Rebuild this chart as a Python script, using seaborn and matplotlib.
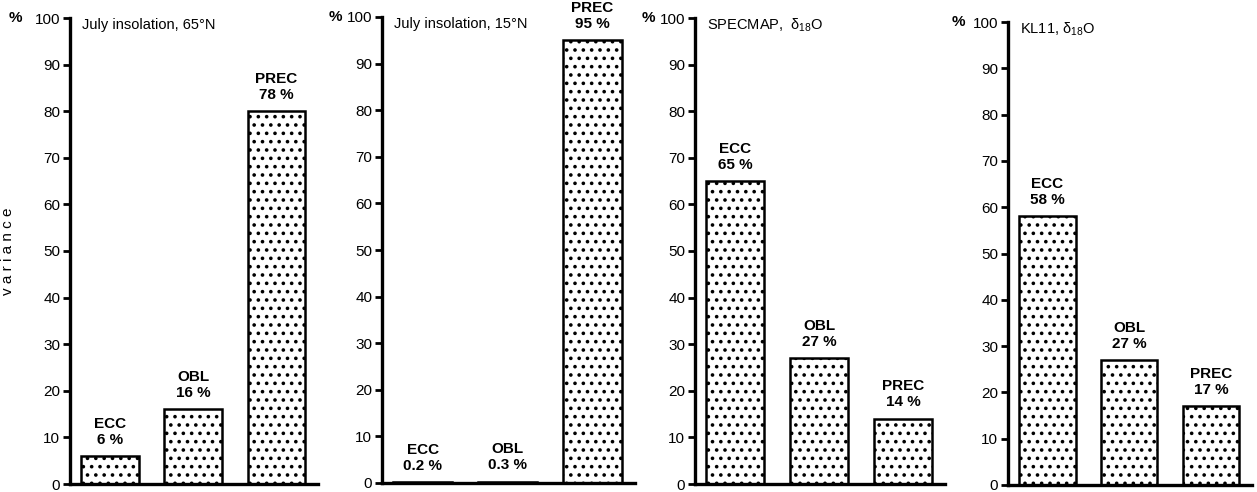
import matplotlib
matplotlib.use("Agg")
import matplotlib.pyplot as plt
import pandas as pd
import seaborn as sns

# Data
components = ["ECC", "OBL", "PREC"]
titles = ["July insolation, 65°N", "July insolation, 15°N",
          r"SPECMAP,  $\mathregular{\delta_{18}}$O", r"KL11, $\mathregular{\delta_{18}}$O"]
heights = [[6, 16, 80], [0.2, 0.3, 95], [65, 27, 14], [58, 27, 17]]
labels = [["6 %", "16 %", "78 %"], ["0.2 %", "0.3 %", "95 %"],
          ["65 %", "27 %", "14 %"], ["58 %", "27 %", "17 %"]]

sns.set_style("white")
plt.rcParams['font.family'] = ['Liberation Sans', 'DejaVu Sans']
plt.rcParams['hatch.linewidth'] = 1.4
plt.rcParams['text.color'] = 'black'
plt.rcParams['ytick.color'] = 'black'
plt.rcParams['axes.labelcolor'] = 'black'

fig = plt.figure(figsize=(12.57, 4.92), dpi=100)
W, H = 1257.0, 492.0
# axes boxes in pixels: left, right, top(y=100), bottom(y=0)
boxes = [(70, 318, 18, 484), (382, 635, 17, 483), (695, 945, 18, 484), (1008, 1252, 22, 485)]
pct_off = [-55, -47, -47, -50]

for i, (l, r, t, b) in enumerate(boxes):
    ax = fig.add_axes([l / W, 1 - b / H, (r - l) / W, (b - t) / H])
    df = pd.DataFrame({"comp": components, "val": heights[i]})
    sns.barplot(data=df, x="comp", y="val", ax=ax, color="white",
                edgecolor="black", linewidth=1.8, width=0.69, hatch="..")
    for p in ax.patches:
        p.set_facecolor("white")
    ax.set_ylim(0, 100)
    ax.set_xlim(-0.48, 2.5)
    ax.set_xticks([])
    ax.set_yticks(range(0, 101, 10))
    ax.tick_params(axis="y", direction="out", length=5, width=2, labelsize=11, pad=2,
                   left=True, colors="black")
    for s in ["top", "right"]:
        ax.spines[s].set_visible(False)
    for s in ["left", "bottom"]:
        ax.spines[s].set_linewidth(2.4)
        ax.spines[s].set_color("black")
    ax.set_xlabel("")
    ax.set_ylabel("")
    for j, comp in enumerate(components):
        ax.text(j, heights[i][j] + 2, comp + "\n" + labels[i][j], ha="center", va="bottom",
                fontsize=11, fontweight="bold", linespacing=1.2)
    ax.annotate(titles[i], xy=(0, 100), xycoords=("axes fraction", "data"),
                xytext=(12, -7), textcoords="offset pixels", ha="left", va="center",
                fontsize=10.5)
    ax.annotate("%", xy=(0, 100), xycoords=("axes fraction", "data"),
                xytext=(pct_off[i], 0), textcoords="offset pixels", ha="center",
                va="center", fontsize=11, fontweight="bold")
    if i == 0:
        ax.set_ylabel("v a r i a n c e", fontsize=11)
        ax.yaxis.set_label_coords(-0.22, 0.5)

fig.savefig("out.png", dpi=100)
